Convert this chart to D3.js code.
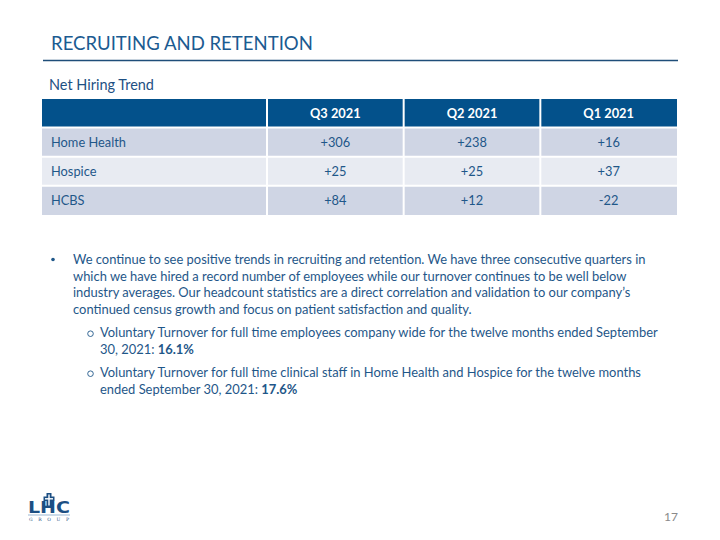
<!DOCTYPE html>
<html><head><meta charset="utf-8">
<script src="https://cdn.jsdelivr.net/npm/d3@7"></script>
<style>
html,body{margin:0;padding:0;background:#fff;}
svg{display:block;}
</style></head>
<body>
<svg id="c" width="720" height="540"></svg>
<script>
const title = "RECRUITING AND RETENTION";
const subtitle = "Net Hiring Trend";
const quarters = ["Q3 2021", "Q2 2021", "Q1 2021"];
const categories = ["Home Health", "Hospice", "HCBS"];
const q3Values = [306, 25, 84];
const q2Values = [238, 25, 12];
const q1Values = [16, 37, -22];
const bulletLines = [
  "We continue to see positive trends in recruiting and retention. We have three consecutive quarters in",
  "which we have hired a record number of employees while our turnover continues to be well below",
  "industry averages. Our headcount statistics are a direct correlation and validation to our company\u2019s",
  "continued census growth and focus on patient satisfaction and quality."
];
const sub1Lines = ["Voluntary Turnover for full time employees company wide for the twelve months ended September", "30, 2021: "];
const sub1Bold = "16.1%";
const sub2Lines = ["Voluntary Turnover for full time clinical staff in Home Health and Hospice for the twelve months", "ended September 30, 2021: "];
const sub2Bold = "17.6%";
const pageNumber = "17";

const seriesByQuarter = [q3Values, q2Values, q1Values];
const FONT = "Lato, 'Open Sans', sans-serif";
const textBlue = "#1f5789";
const svg = d3.select("#c");

function fitSize(str, targetW, weight) {
  const t = svg.append("text").attr("font-family", FONT).attr("font-size", 100)
    .attr("font-weight", weight || "normal").text(str);
  const w = t.node().getComputedTextLength();
  t.remove();
  return 100 * targetW / w;
}

// Title
const titleSize = fitSize(title, 262);
svg.append("text").attr("x", 51).attr("y", 50).attr("font-family", FONT)
  .attr("font-size", titleSize).attr("fill", "#1b5b91").text(title);
svg.append("line").attr("x1", 43).attr("x2", 678).attr("y1", 60.5).attr("y2", 60.5)
  .attr("stroke", "#1f4e79").attr("stroke-width", 1.3);

// Subtitle
const subSize = fitSize(subtitle, 105);
svg.append("text").attr("x", 49).attr("y", 90).attr("font-family", FONT)
  .attr("font-size", subSize).attr("fill", "#1e5083").text(subtitle);

// Table
const tableLeft = 42, firstColRight = 267, tableRight = 677;
const headerTop = 99, headerBottom = 127.5, tableBottom = 215;
const xq = d3.scaleBand().domain(quarters).range([firstColRight, tableRight]);
const yr = d3.scaleBand().domain(categories).range([headerBottom, tableBottom]);
const cellSize = fitSize("Home Health", 75);

const tbl = svg.append("g");
tbl.append("rect").attr("x", tableLeft).attr("y", headerTop)
  .attr("width", tableRight - tableLeft).attr("height", headerBottom - headerTop)
  .attr("fill", "#03518b");
tbl.selectAll("rect.row").data(categories).join("rect").attr("class", "row")
  .attr("x", tableLeft).attr("y", d => yr(d))
  .attr("width", tableRight - tableLeft).attr("height", yr.bandwidth())
  .attr("fill", (d, i) => i % 2 === 0 ? "#cfd5e4" : "#e8ebf2");
tbl.selectAll("line.h").data(categories).join("line").attr("class", "h")
  .attr("x1", tableLeft).attr("x2", tableRight)
  .attr("y1", d => yr(d)).attr("y2", d => yr(d))
  .attr("stroke", "#fff").attr("stroke-width", 2);
tbl.selectAll("line.v").data(quarters).join("line").attr("class", "v")
  .attr("x1", d => xq(d)).attr("x2", d => xq(d))
  .attr("y1", headerTop).attr("y2", tableBottom)
  .attr("stroke", "#fff").attr("stroke-width", 2);
tbl.selectAll("text.hd").data(quarters).join("text").attr("class", "hd")
  .attr("x", d => xq(d) + xq.bandwidth() / 2).attr("y", 117.5)
  .attr("text-anchor", "middle").attr("font-family", FONT).attr("font-weight", "bold")
  .attr("font-size", cellSize).attr("fill", "#fff").text(d => d);
tbl.selectAll("text.cat").data(categories).join("text").attr("class", "cat")
  .attr("x", 51).attr("y", d => yr(d) + yr.bandwidth() / 2 + 4.5)
  .attr("font-family", FONT).attr("font-size", cellSize).attr("fill", textBlue).text(d => d);
const fmt = v => (v > 0 ? "+" : "") + v;
quarters.forEach((q, qi) => {
  tbl.selectAll("text.v" + qi).data(seriesByQuarter[qi]).join("text").attr("class", "v" + qi)
    .attr("x", xq(q) + xq.bandwidth() / 2)
    .attr("y", (d, i) => yr(categories[i]) + yr.bandwidth() / 2 + 4.5)
    .attr("text-anchor", "middle").attr("font-family", FONT).attr("font-size", cellSize)
    .attr("fill", textBlue).text(d => fmt(d));
});

// Bullet text
const bodySize = fitSize(bulletLines[0], 573);
const body = svg.append("g").attr("font-family", FONT).attr("font-size", bodySize).attr("fill", textBlue);
body.append("circle").attr("cx", 53).attr("cy", 259.5).attr("r", 1.8).attr("fill", textBlue);
const bodyY = [264, 281, 297, 314];
body.selectAll("text.b").data(bulletLines).join("text").attr("class", "b")
  .attr("x", 73).attr("y", (d, i) => bodyY[i]).text(d => d);

function subBullet(lines, bold, y0) {
  body.append("circle").attr("cx", 90.5).attr("cy", y0 - 3.3).attr("r", 2.8)
    .attr("fill", "none").attr("stroke", textBlue).attr("stroke-width", 0.9);
  body.append("text").attr("x", 100).attr("y", y0).text(lines[0]);
  const t = body.append("text").attr("x", 100).attr("y", y0 + 17);
  t.append("tspan").text(lines[1]);
  t.append("tspan").attr("font-weight", "bold").text(bold);
}
subBullet(sub1Lines, sub1Bold, 337);
subBullet(sub2Lines, sub2Bold, 377);

// Logo
const logo = svg.append("g");
const logoBlue = "#1c4f83";
logo.append("text").attr("x", 28).attr("y", 513).attr("font-family", "'DejaVu Sans', sans-serif")
  .attr("font-weight", "bold").attr("font-size", 15).attr("fill", logoBlue)
  .attr("textLength", 42).attr("lengthAdjust", "spacingAndGlyphs").text("LHC");
logo.append("rect").attr("x", 46.5).attr("y", 493).attr("width", 5).attr("height", 14).attr("fill", logoBlue);
logo.append("rect").attr("x", 43.5).attr("y", 496.5).attr("width", 11).attr("height", 4.5).attr("fill", logoBlue);
logo.append("rect").attr("x", 48.3).attr("y", 494.5).attr("width", 1.4).attr("height", 11).attr("fill", "#fff");
logo.append("rect").attr("x", 45).attr("y", 498.1).attr("width", 8).attr("height", 1.4).attr("fill", "#fff");
logo.append("line").attr("x1", 28).attr("x2", 70).attr("y1", 515).attr("y2", 515)
  .attr("stroke", "#9bb8d3").attr("stroke-width", 1);
logo.append("text").attr("x", 29).attr("y", 521).attr("font-family", "'DejaVu Serif', serif")
  .attr("font-size", 4.5).attr("fill", logoBlue).attr("textLength", 40).text("GROUP");

// page number
svg.append("text").attr("x", 678).attr("y", 521).attr("text-anchor", "end")
  .attr("font-family", FONT).attr("font-size", 12).attr("fill", "#8a8a8a").text(pageNumber);
</script>
</body></html>
